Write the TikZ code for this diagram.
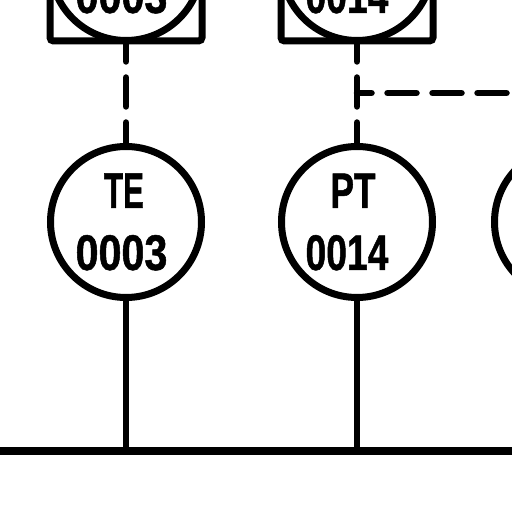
\documentclass[tikz,border=0pt]{standalone}
\usepackage{fontspec}
\setmainfont[FakeStretch=0.8,BoldFeatures={FakeBold=1}]{Liberation Sans}
\usetikzlibrary{positioning}
\newcommand{\tagline}[3]{\scalebox{#1}[1]{#3}\kern#2\relax}
\begin{document}
\begin{tikzpicture}
  \tikzstyle{instr}=[circle,draw,line width=0.14cm,minimum size=3.02cm,inner sep=0pt,outer sep=0pt,
    align=center,font=\fontsize{28.5pt}{35.3pt}\selectfont\bfseries]
  \tikzstyle{panel}=[draw,line width=0.14cm,rounded corners=2pt,minimum size=3.04cm,inner sep=0pt,outer sep=0pt]
  \tikzstyle{signal}=[line width=0.13cm,line cap=round]
  \tikzstyle{process}=[line width=0.13cm]
  \useasboundingbox (0,0) rectangle (10.24,10.24);
  \clip (0,0) rectangle (10.24,10.24);
  % Panel-mounted instruments, cut off by the top edge
  \node[panel] (tebox) at (2.52,10.94) {};
  \node[panel] (ptbox) at (7.14,10.94) {};
  \node[instr] (teup) at (2.52,10.94) {\tagline{0.78}{0.08cm}{TE}\\\tagline{1.03}{0.18cm}{0003}};
  \node[instr] (ptup) at (7.14,10.94) {\tagline{0.88}{0.16cm}{PT}\\\tagline{0.93}{0.4cm}{0014}};
  % Field instruments
  \node[instr] (te) at (2.52,5.80) {\tagline{0.78}{0.08cm}{TE}\\\tagline{1.03}{0.18cm}{0003}};
  \node[instr] (pt) at (7.14,5.80) {\tagline{0.88}{0.16cm}{PT}\\\tagline{0.93}{0.4cm}{0014}};
  \node[instr] (next) at (11.4,5.80) {};
  % Process line along the bottom
  \coordinate (busl) at (0,1.22);
  \coordinate (busr) at (10.24,1.22);
  \draw[line width=0.17cm] (busl) -- (busr);
  \draw[process] (te.south) -- (te |- busl);
  \draw[process] (pt.south) -- (pt |- busl);
  % Signal lines between field and panel
  \draw[signal,dash pattern=on 0.58cm off 0.32cm,dash phase=0.17cm] (tebox.south) -- (te.north);
  \draw[signal,dash pattern=on 0.58cm off 0.32cm,dash phase=0.17cm] (ptbox.south) -- (pt.north);
  \coordinate (tap) at (7.14,8.38);
  \coordinate (tapr) at (10.24,8.38);
  \draw[signal,dash pattern=on 0.58cm off 0.32cm,dash phase=0.29cm] (tap) -- (tapr);
\end{tikzpicture}
\end{document}
